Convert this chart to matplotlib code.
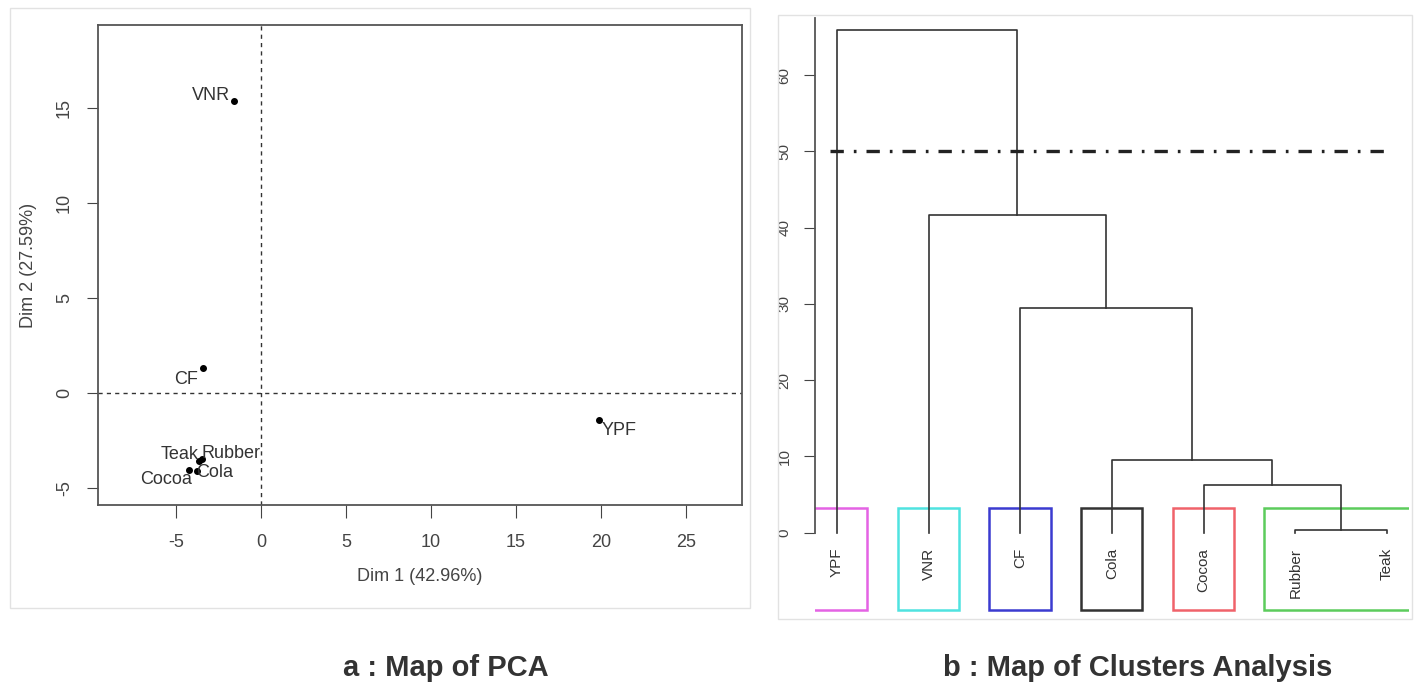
import matplotlib.pyplot as plt
from matplotlib.patches import Rectangle

plt.rcParams['font.family'] = ['Liberation Sans', 'DejaVu Sans']
plt.rcParams['axes.unicode_minus'] = False

# PCA coordinates
names = ["VNR", "CF", "YPF", "Teak", "Rubber", "Cola", "Cocoa"]
dim1 = [-1.6, -3.4, 19.9, -3.65, -3.5, -3.75, -4.25]
dim2 = [15.4, 1.3, -1.4, -3.6, -3.5, -4.1, -4.05]

# dendrogram (hclust style: negative = leaf index, positive = earlier merge)
leaves = ["YPF", "VNR", "CF", "Cola", "Cocoa", "Rubber", "Teak"]
merge = [(-6, -7), (-5, 1), (-4, 2), (-3, 3), (-2, 4), (-1, 5)]
heights = [0.3, 6.2, 9.5, 29.5, 41.7, 65.9]
cut = 50
groups = [["YPF"], ["VNR"], ["CF"], ["Cola"], ["Cocoa"], ["Rubber", "Teak"]]
group_colors = ["#e463e4", "#4fe3e0", "#3b3bd0", "#333333", "#f0626a", "#5ccc5c"]

W, H = 1420, 692
fig = plt.figure(figsize=(W / 100, H / 100), dpi=100)


def box(x0, y0, x1, y1):
    return [x0 / W, 1 - y1 / H, (x1 - x0) / W, (y1 - y0) / H]


# light frames around the two panels
for x0, y0, x1, y1 in [(10, 8, 750, 608), (778, 15, 1412, 619)]:
    fig.add_artist(Rectangle((x0 / W, 1 - y1 / H), (x1 - x0) / W, (y1 - y0) / H,
                             transform=fig.transFigure, fill=False,
                             ec="#e2e2e2", lw=1))

# ---- a : PCA map
ax1 = fig.add_axes(box(98, 25, 742, 505))
ax1.set_xlim(-9.6, 28.3)
ax1.set_ylim(-5.9, 19.4)
ax1.axhline(0, color="#333333", ls=(0, (3, 3)), lw=1)
ax1.axvline(0, color="#333333", ls=(0, (3, 3)), lw=1)
ax1.plot(dim1, dim2, "o", color="black", ms=4)

offsets = {"VNR": (-3, -2, "right", "bottom"),
           "CF": (-4, -2, "right", "top"),
           "YPF": (2, -2, "left", "top"),
           "Teak": (0, -1, "right", "bottom"),
           "Rubber": (0, -2, "left", "bottom"),
           "Cola": (-1, -1, "left", "center"),
           "Cocoa": (2, -1, "right", "top")}
for n, x, y in zip(names, dim1, dim2):
    dx, dy, ha, va = offsets[n]
    ax1.annotate(n, (x, y), xytext=(dx, dy), textcoords="offset points",
                 ha=ha, va=va, fontsize=13, color="#333333")

ax1.set_xticks([-5, 0, 5, 10, 15, 20, 25])
ax1.set_yticks([-5, 0, 5, 10, 15])
ax1.tick_params(axis="x", length=9, pad=12, labelsize=13, colors="#444444")
ax1.tick_params(axis="y", length=8, pad=10, labelsize=13, colors="#444444",
                labelrotation=90)
for t in ax1.get_yticklabels():
    t.set_va("center")
for s in ax1.spines.values():
    s.set_color("#555555")
    s.set_linewidth(1.3)
ax1.set_xlabel("Dim 1 (42.96%)", fontsize=13, color="#444444", labelpad=12)
ax1.set_ylabel("Dim 2 (27.59%)", fontsize=13, color="#444444", labelpad=14)

# ---- b : dendrogram
ax2 = fig.add_axes(box(815, 18, 1409, 612))
ax2.set_xlim(0.76, 7.24)
ax2.set_ylim(-10.4, 67.5)

pos = {}
for i, n in enumerate(leaves):
    pos[-(i + 1)] = (i + 1, 0)
for k, ((a, b), h) in enumerate(zip(merge, heights)):
    xa, ya = pos[a]
    xb, yb = pos[b]
    ax2.plot([xa, xa, xb, xb], [ya, h, h, yb], color="#333333", lw=1.2)
    pos[k + 1] = ((xa + xb) / 2, h)

for i, n in enumerate(leaves):
    ax2.text(i + 1, -2.0, n, rotation=90, ha="center", va="top",
             fontsize=11, color="#333333")

rect_top = (heights[-6] + heights[-5]) / 2
rect_bottom = -10.1
for g, c in zip(groups, group_colors):
    i0 = leaves.index(g[0]) + 1
    i1 = leaves.index(g[-1]) + 1
    r = Rectangle((i0 - 0.34, rect_bottom), (i1 + 0.33) - (i0 - 0.34),
                  rect_top - rect_bottom, fill=False, ec=c, lw=1.8, clip_on=True)
    ax2.add_patch(r)

ax2.axhline(cut, xmin=0.025, xmax=0.96, color="#222222", lw=2.4,
            ls=(0, (4, 3, 0.8, 3)))

for s in ["top", "right", "bottom"]:
    ax2.spines[s].set_visible(False)
ax2.spines["left"].set_bounds(0, 67.5)
ax2.spines["left"].set_color("#555555")
ax2.spines["left"].set_linewidth(1.3)
ax2.set_xticks([])
ax2.set_yticks([0, 10, 20, 30, 40, 50, 60])
ax2.tick_params(axis="y", length=8, pad=9, labelsize=11, colors="#444444",
                labelrotation=90)
for t in ax2.get_yticklabels():
    t.set_va("center")

fig.text(446 / W, 1 - 668 / H, "a : Map of PCA", fontsize=21, fontweight="bold",
         ha="center", va="center", color="#333333")
fig.text(1138 / W, 1 - 668 / H, "b : Map of Clusters Analysis", fontsize=21,
         fontweight="bold", ha="center", va="center", color="#333333")

fig.savefig("out.png", dpi=100)
